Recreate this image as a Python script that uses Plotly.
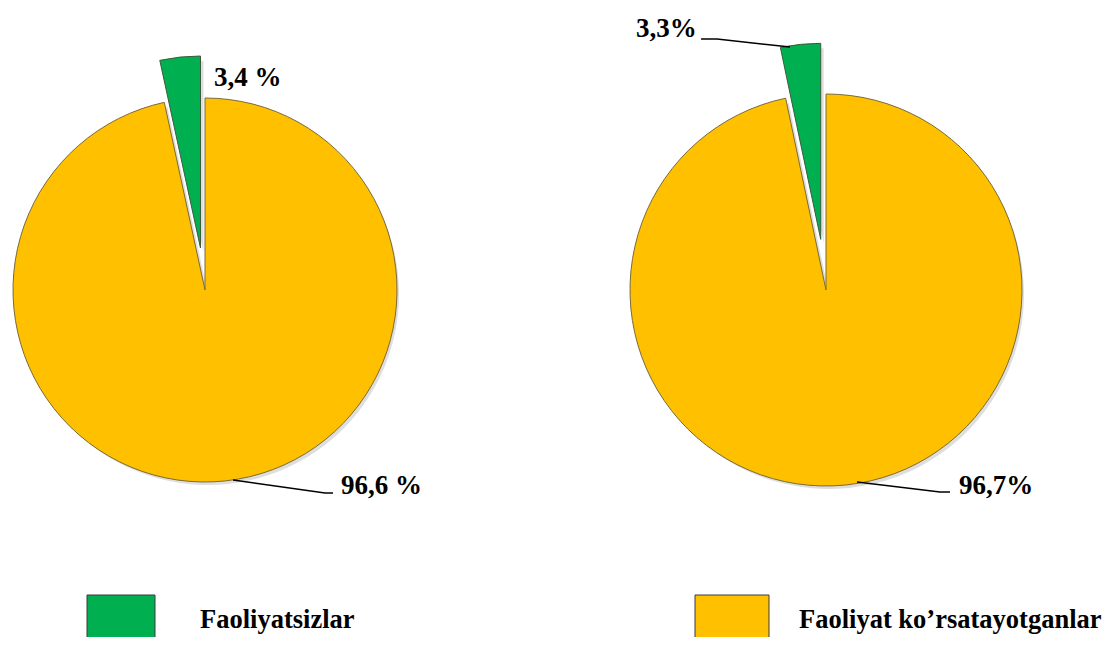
import math
import plotly.graph_objects as go

# data
labels = ["Faoliyatsizlar", "Faoliyat ko’rsatayotganlar"]
left_values = [3.4, 96.6]
right_values = [3.3, 96.7]
left_text = ["3,4 %", "96,6 %"]
right_text = ["3,3%", "96,7%"]

COLORS = ["#00B050", "#FFC000"]
EDGE = "#7a6a3a"
SHADOW = "rgba(0,0,0,0.13)"
CLEAR = "rgba(0,0,0,0)"
FONT = "Liberation Serif"
PAD = 8                      # page body margin in the browser
W, H = 1110 - 2 * PAD, 645 - 2 * PAD


def px(x, y):
    # screen pixel -> paper coords
    return (x - PAD) / W, 1 - (y - PAD) / H


def dom(cx, cy, r):
    (x0, y1), (x1, y0) = px(cx - r, cy - r), px(cx + r, cy + r)
    clip = lambda v: min(max(v, 0.0), 1.0)
    return dict(x=[clip(x0), clip(x1)], y=[clip(y0), clip(y1)])


def slice_pie(values, show, fill, edge, width, domain, rot):
    colors = [fill if s else CLEAR for s in show]
    lines = [edge if s else CLEAR for s in show]
    return go.Pie(
        labels=labels, values=values, sort=False, direction="clockwise",
        rotation=rot, textinfo="none", showlegend=False, hoverinfo="label+percent",
        marker=dict(colors=colors, line=dict(color=lines, width=width)),
        domain=domain,
    )


def add_pie(fig, values, cx, cy, r, pull):
    frac = values[0] / sum(values)
    rot = -frac * 360          # green slice ends at 12 o'clock
    half = frac * 180
    d = pull * r
    ox = -d * math.sin(math.radians(half))
    oy = -d * math.cos(math.radians(half))

    # soft drop shadows
    fig.add_trace(slice_pie(values, [0, 1], SHADOW, CLEAR, 0, dom(cx + 3, cy + 4, r - 1), rot))
    fig.add_trace(slice_pie(values, [1, 0], SHADOW, CLEAR, 0, dom(cx + ox + 3, cy + oy + 4, r - 1), rot))
    # body of the pie, first slice left empty (it is pulled out)
    fig.add_trace(slice_pie(values, [0, 1], COLORS[1], EDGE, 1, dom(cx, cy, r), rot))
    # pulled slice drawn as its own pie, shifted along its bisector
    fig.add_trace(slice_pie(values, [1, 0], COLORS[0], "#3d5a3d", 1, dom(cx + ox, cy + oy, r), rot))


fig = go.Figure()
add_pie(fig, left_values, 205, 290, 192, 0.22)
add_pie(fig, right_values, 826, 290, 196, 0.26)

label_font = dict(family=FONT, size=27, color="black", weight="bold")

# value labels (left edge x, centre y)
for txt, (x, y) in zip(left_text + right_text,
                       [(212, 77), (339, 485), (634, 28), (957, 485)]):
    fx, fy = px(x, y)
    fig.add_annotation(x=fx, y=fy, xref="paper", yref="paper", text=txt,
                       showarrow=False, xanchor="left", yanchor="middle",
                       font=label_font)

# leader lines
for pts in [[(233, 480), (325, 493), (333, 493)],
            [(790, 47), (717, 39), (701, 39)],
            [(857, 482), (940, 492), (950, 492)]]:
    path = "M " + " L ".join(f"{px(*p)[0]:.4f},{px(*p)[1]:.4f}" for p in pts)
    fig.add_shape(type="path", path=path, xref="paper", yref="paper",
                  line=dict(color="black", width=1.5))

# legend drawn by hand (big swatches, wide spacing)
for i, (x0, x1, tx) in enumerate([(87, 155, 198), (695, 769, 797)]):
    a, b = px(x0, 595), px(x1, 652)
    fig.add_shape(type="rect", xref="paper", yref="paper",
                  x0=a[0], y0=a[1], x1=b[0], y1=b[1],
                  fillcolor=COLORS[i], line=dict(color="#3a3a3a", width=1))
    fx, fy = px(tx, 619)
    fig.add_annotation(x=fx, y=fy, xref="paper", yref="paper", text=labels[i],
                       showarrow=False, xanchor="left", yanchor="middle",
                       font=dict(family=FONT, size=26.5, color="black", weight="bold"))

fig.update_layout(
    width=W, height=H,
    margin=dict(l=0, r=0, t=0, b=0),
    paper_bgcolor="white", plot_bgcolor="white",
)

fig.write_html("out.html")
